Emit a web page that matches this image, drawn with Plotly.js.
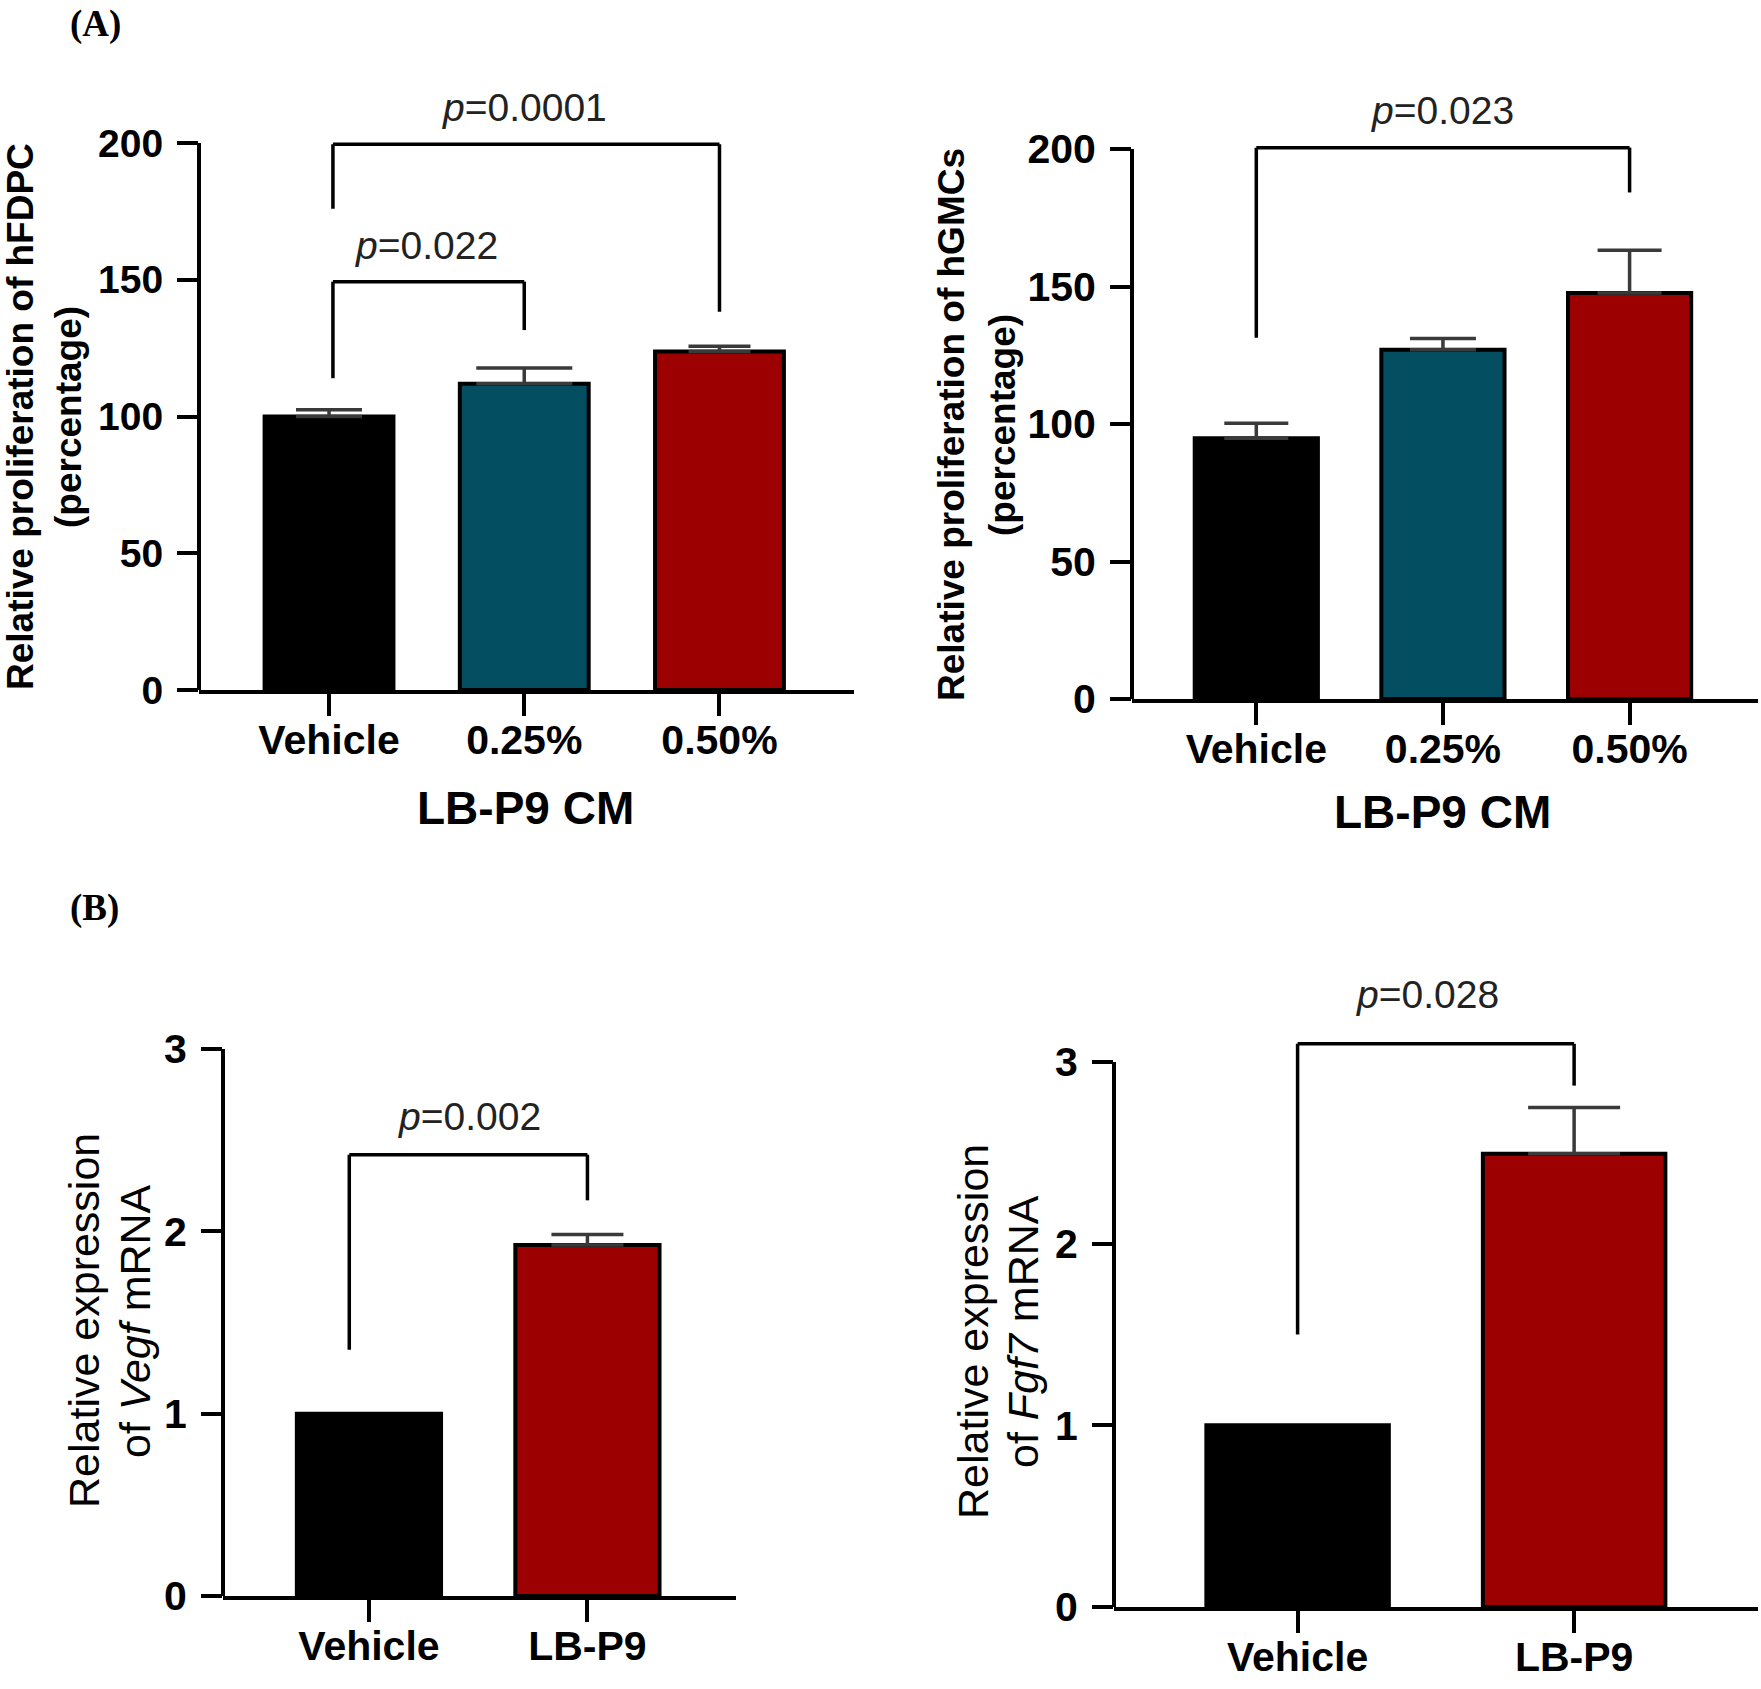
<!DOCTYPE html>
<html>
<head>
<meta charset="utf-8">
<script src="https://cdn.plot.ly/plotly-3.0.1.min.js"></script>
<style>html,body{margin:0;padding:0;background:#fff;}</style>
</head>
<body>
<div id="chart" style="width:1761px;height:1689px;"></div>
<script>
// ---------------- DATA ----------------
const catsA = ['Vehicle', '0.25%', '0.50%'];
const hfdpcMean = [100, 112, 123.8];
const hfdpcErr = [2.5, 5.7, 1.9];
const hgmcMean = [94.8, 127, 147.6];
const hgmcErr = [5.5, 4.1, 15.6];

const catsB = ['Vehicle', 'LB-P9'];
const vegfMean = [1.0, 1.925];
const vegfErr = [0, 0.058];
const fgf7Mean = [1.0, 2.495];
const fgf7Err = [0, 0.254];

const hfdpcP = ['0.0001', '0.022'];
const hgmcP = ['0.023'];
const vegfP = ['0.002'];
const fgf7P = ['0.028'];

const ticksA = [0, 50, 100, 150, 200];
const ticksB = [0, 1, 2, 3];

// ---------------- STYLE / LAYOUT ----------------
const W = 1761, H = 1689;
const FONT = 'Liberation Sans, Arial, Helvetica, sans-serif';
const SERIF = 'Liberation Serif, Times New Roman, serif';
const BLACK = '#000000', TEAL = '#034e61', RED = '#9c0000';

// bracket legs: a/b = category index of the legs, ao/bo = small leg offsets (category units)
const panels = [
  { cats: catsA, means: hfdpcMean, errs: hfdpcErr, colors: [BLACK, TEAL, RED], capHalf: [33, 48, 31],
    left: 199, right: 854, zeroPx: 690, unitPx: 547 / 200, yTop: 232, axisTop: 200,
    xRange: [-0.666, 2.689], ticks: ticksA, tickSize: 39,
    brackets: [ {a: 0, ao: 0.02, b: 2, bo: 0, top: 199.5, la: 176, lb: 138.3, p: hfdpcP[0], px: 1.0, py: 213},
                {a: 0, ao: 0.02, b: 1, bo: 0, top: 149.3, la: 114, lb: 131.6, p: hfdpcP[1], px: 0.5, py: 162.5} ],
    ytitle: [ {text: 'Relative proliferation of hFDPC', x: 21}, {text: '(percentage)', x: 69} ],
    ytitleY: 417, ytitleFont: {size: 37, weight: 700, color: '#000'},
    xtitle: {text: 'LB-P9 CM', x: 525, y: 808} },
  { cats: catsA, means: hgmcMean, errs: hgmcErr, colors: [BLACK, TEAL, RED], capHalf: [32, 33, 32],
    left: 1132, right: 1758, zeroPx: 699, unitPx: 550 / 200, yTop: 232, axisTop: 200,
    xRange: [-0.666, 2.688], ticks: ticksA, tickSize: 41,
    brackets: [ {a: 0, ao: 0, b: 2, bo: 0, top: 200.5, la: 131.4, lb: 184.2, p: hgmcP[0], px: 1.0, py: 214} ],
    ytitle: [ {text: 'Relative proliferation of hGMCs', x: 951}, {text: '(percentage)', x: 1002} ],
    ytitleY: 425, ytitleFont: {size: 37, weight: 700, color: '#000'},
    xtitle: {text: 'LB-P9 CM', x: 1442, y: 812} },
  { cats: catsB, means: vegfMean, errs: vegfErr, colors: [BLACK, RED], capHalf: [0, 36],
    left: 223, right: 736, zeroPx: 1596, unitPx: 547 / 3, yTop: 3.5, axisTop: 3,
    xRange: [-0.668, 1.68], ticks: ticksB, tickSize: 41,
    brackets: [ {a: 0, ao: -0.09, b: 1, bo: 0, top: 2.42, la: 1.35, lb: 2.17, p: vegfP[0], px: 0.46, py: 2.63} ],
    ytitle: [ {text: 'Relative expression', x: 84}, {text: 'of <i>Vegf</i> mRNA', x: 135} ],
    ytitleY: 1321, ytitleFont: {size: 43, weight: 400, color: '#000'},
    xtitle: null },
  { cats: catsB, means: fgf7Mean, errs: fgf7Err, colors: [BLACK, RED], capHalf: [0, 46],
    left: 1114, right: 1758, zeroPx: 1607, unitPx: 545 / 3, yTop: 3.5, axisTop: 3,
    xRange: [-0.664, 1.665], ticks: ticksB, tickSize: 41,
    brackets: [ {a: 0, ao: 0, b: 1, bo: 0, top: 3.10, la: 1.50, lb: 2.87, p: fgf7P[0], px: 0.47, py: 3.37} ],
    ytitle: [ {text: 'Relative expression', x: 973}, {text: 'of <i>Fgf7</i> mRNA', x: 1023} ],
    ytitleY: 1332, ytitleFont: {size: 43, weight: 400, color: '#000'},
    xtitle: null }
];

const traces = [];
const shapes = [];
const annotations = [];
const layout = {
  width: W, height: H,
  margin: {l: 0, r: 0, t: 0, b: 0, pad: 0},
  paper_bgcolor: '#fff', plot_bgcolor: 'rgba(0,0,0,0)',
  showlegend: false,
  barmode: 'overlay',
  font: {family: FONT, color: '#000'}
};

panels.forEach((P, i) => {
  const s = i === 0 ? '' : String(i + 1);
  const xa = 'x' + s, ya = 'y' + s;
  const yDomTop = 1 - (P.zeroPx - P.yTop * P.unitPx) / H;
  const yDomBot = 1 - P.zeroPx / H;

  layout['xaxis' + s] = {
    domain: [P.left / W, P.right / W], anchor: ya,
    type: 'category', categoryorder: 'array', categoryarray: P.cats,
    range: P.xRange, fixedrange: true,
    showline: true, linecolor: '#000', linewidth: 4, mirror: false,
    ticks: 'outside', ticklen: 22, tickwidth: 4, tickcolor: '#000',
    ticklabelstandoff: -11,
    tickfont: {family: FONT, size: 41, weight: 700, color: '#000'},
    showgrid: false, zeroline: false
  };
  layout['yaxis' + s] = {
    domain: [yDomBot, yDomTop], anchor: xa,
    range: [0, P.yTop], fixedrange: true,
    showline: false,
    tickmode: 'array', tickvals: P.ticks, ticktext: P.ticks.map(String),
    ticks: 'outside', ticklen: 21, tickwidth: 4, tickcolor: '#000',
    ticklabelstandoff: 6,
    tickfont: {family: FONT, size: P.tickSize, weight: 700, color: '#000'},
    showgrid: false, zeroline: false
  };

  // y axis line (only up to the top tick)
  shapes.push({type: 'line', xref: xa + ' domain', yref: ya, x0: 0, x1: 0, y0: 0, y1: P.axisTop,
               line: {color: '#000', width: 4}, layer: 'above'});

  // bars
  P.cats.forEach((c, j) => {
    traces.push({
      type: 'bar', x: [c], y: [P.means[j]], xaxis: xa, yaxis: ya,
      width: [0.66],
      marker: {color: P.colors[j], line: {color: '#000', width: 4}},
      error_y: {type: 'data', symmetric: false, array: [P.errs[j]], arrayminus: [0],
                visible: P.errs[j] > 0, color: '#3a3a3a', thickness: 3.5, width: P.capHalf[j]},
      hoverinfo: 'skip'
    });
  });

  // significance brackets (line shapes in data coordinates)
  P.brackets.forEach(b => {
    const xl = b.a + b.ao, xr = b.b + b.bo;
    const ln = {color: '#000', width: 3.5};
    shapes.push({type: 'line', xref: xa, yref: ya, x0: xl, x1: xl, y0: b.la, y1: b.top, line: ln});
    shapes.push({type: 'line', xref: xa, yref: ya, x0: xl, x1: xr, y0: b.top, y1: b.top, line: ln});
    shapes.push({type: 'line', xref: xa, yref: ya, x0: xr, x1: xr, y0: b.top, y1: b.lb, line: ln});
    annotations.push({
      xref: xa, yref: ya, x: b.px, y: b.py, text: '<i>p</i>=' + b.p,
      showarrow: false, xanchor: 'center', yanchor: 'middle',
      font: {family: FONT, size: 39, color: '#222'}
    });
  });

  // y titles (one annotation per line)
  P.ytitle.forEach(t => {
    annotations.push({
      xref: 'paper', yref: 'paper', x: t.x / W, y: 1 - P.ytitleY / H,
      text: t.text, textangle: -90, showarrow: false,
      xanchor: 'center', yanchor: 'middle',
      font: Object.assign({family: FONT}, P.ytitleFont)
    });
  });

  if (P.xtitle) {
    annotations.push({
      xref: 'paper', yref: 'paper', x: P.xtitle.x / W, y: 1 - P.xtitle.y / H,
      text: P.xtitle.text, showarrow: false, xanchor: 'center', yanchor: 'middle',
      font: {family: FONT, size: 46, weight: 700, color: '#000'}
    });
  }
});

// panel letters
annotations.push({xref: 'paper', yref: 'paper', x: 95 / W, y: 1 - 24 / H, text: '(A)', showarrow: false,
  xanchor: 'center', yanchor: 'middle', font: {family: SERIF, size: 37, weight: 700, color: '#000'}});
annotations.push({xref: 'paper', yref: 'paper', x: 94 / W, y: 1 - 908 / H, text: '(B)', showarrow: false,
  xanchor: 'center', yanchor: 'middle', font: {family: SERIF, size: 37, weight: 700, color: '#000'}});

layout.shapes = shapes;
layout.annotations = annotations;

Plotly.newPlot('chart', traces, layout, {displayModeBar: false, staticPlot: true});
</script>
</body>
</html>
